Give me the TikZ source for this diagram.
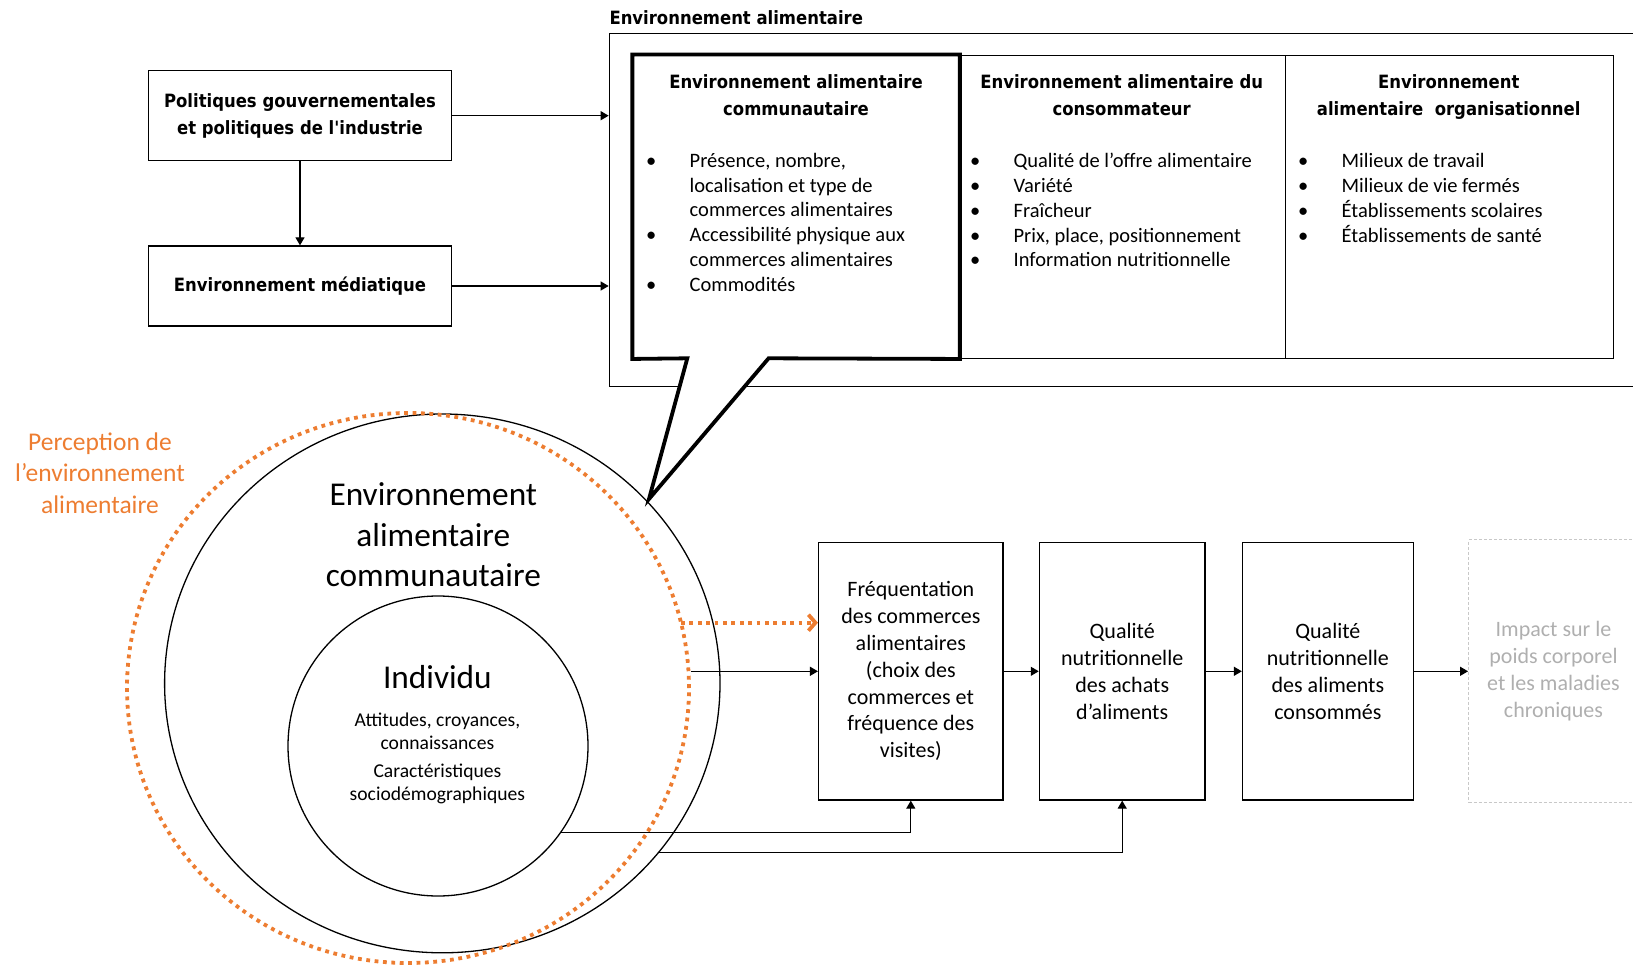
\documentclass[tikz,border=0pt]{standalone}
\usepackage{fontspec}
\setmainfont{Carlito}
\newfontfamily\headfont[FakeStretch=0.9]{DejaVu Sans}
\usetikzlibrary{arrows.meta,positioning,shapes.geometric}
\definecolor{percorange}{HTML}{ED7D31}
\definecolor{fadedline}{HTML}{C8C8C8}
\definecolor{fadedtext}{HTML}{AFAFAF}
\newcommand{\bl}{\makebox[0pt]{\textbullet}\hspace{38.5pt}}
\newcommand{\ct}{\hspace{38.5pt}}

\begin{document}
\begin{tikzpicture}[x=1pt, y=-1pt,
    box/.style = {draw, line width=1.3pt, inner sep=0pt, align=center},
    head/.style = {font=\headfont\bfseries\fontsize{18.3}{27.1}\selectfont, align=center, inner sep=0pt},
    body/.style = {font=\fontsize{20.5}{24.8}\selectfont, inner sep=0pt},
    flow/.style = {font=\fontsize{22}{26.8}\selectfont},
    arr/.style = {-{Triangle[length=8pt,width=9pt]}, line width=1.3pt},
    dots/.style = {draw=percorange, line width=3.8pt, dash pattern=on 3.8pt off 4.6pt}]
    \useasboundingbox (0,0) rectangle (1633,965);

    % policies and media
    \node[box, head, minimum width=303.4pt, minimum height=90pt] (pol) at (300,115.7) {Politiques gouvernementales\\et politiques de l'industrie};
    \node[box, head, minimum width=303.4pt, minimum height=80pt] (med) at (300,286) {Environnement médiatique};

    % food environment frame
    \node[head, anchor=west] (titre) at (609.3,17.7) {Environnement alimentaire};
    \node[box, minimum width=1040.7pt, minimum height=353.1pt] (env) at (1129.65,209.85) {};
    \node[box, minimum width=326.2pt, minimum height=303.1pt] (col1) at (796.1,206.75) {};
    \node[box, minimum width=326pt, minimum height=303.1pt] (col2) at (1122.2,206.75) {};
    \node[box, minimum width=328.1pt, minimum height=303.1pt] (col3) at (1449.25,206.75) {};
    \coordinate (tip) at (649,499);
    \draw[line width=3.8pt, fill=white] (col1.north west) -- (col1.north east) -- (col1.south east)
        -- (768.6,358.3) -- (tip) -- (687.3,358.3) -- (col1.south west) -- cycle;

    \node[head] (h1) at (796,94.75) {Environnement alimentaire\\communautaire};
    \node[head] (h2) at (1121.7,94.75) {Environnement alimentaire du\\consommateur};
    \node[head] (h3) at (1448.7,96.8) {Environnement\\alimentaire\ \ organisationnel};

    \node[body, anchor=west] (l1) at (651,224.4) {\begin{tabular}{@{}l@{}}
        \bl Présence, nombre,\\ \ct localisation et type de\\ \ct commerces alimentaires\\
        \bl Accessibilité physique aux\\ \ct commerces alimentaires\\ \bl Commodités\end{tabular}};
    \node[body, anchor=west] (l2) at (974.9,212.4) {\begin{tabular}{@{}l@{}}
        \bl Qualité de l’offre alimentaire\\ \bl Variété\\ \bl Fraîcheur\\
        \bl Prix, place, positionnement\\ \bl Information nutritionnelle\end{tabular}};
    \node[body, anchor=west] (l3) at (1303,199.9) {\begin{tabular}{@{}l@{}}
        \bl Milieux de travail\\ \bl Milieux de vie fermés\\
        \bl Établissements scolaires\\ \bl Établissements de santé\end{tabular}};

    % circles
    \node[draw, ellipse, line width=1.3pt, minimum width=555.4pt, minimum height=538.8pt, inner sep=0pt] (commu) at (442.3,683.4) {};
    \node[draw, circle, line width=1.3pt, minimum size=300pt, inner sep=0pt] (indiv) at (438,746) {};
    \node[dots, ellipse, minimum width=562pt, minimum height=550pt, inner sep=0pt] (percep) at (408,688) {};

    \node[font=\fontsize{33.3}{40.6}\selectfont, align=center, inner sep=0pt] (commutxt) at (433.3,535) {Environnement\\alimentaire\\communautaire};
    \node[font=\fontsize{33.3}{40.6}\selectfont, inner sep=0pt] (indivtxt) at (437.4,677) {Individu};
    \node[font=\fontsize{19.6}{22.8}\selectfont, align=center, inner sep=0pt] (atti) at (437.4,731) {Attitudes, croyances,\\connaissances};
    \node[font=\fontsize{19.6}{22.8}\selectfont, align=center, inner sep=0pt] (carac) at (437.4,784) {Caractéristiques\\sociodémographiques};
    \node[text=percorange, font=\fontsize{25.5}{31.7}\selectfont, align=center, inner sep=0pt] (perclab) at (100,473) {Perception de\\l’environnement\\alimentaire};

    % outcomes
    \node[box, flow, minimum width=184.4pt, minimum height=257.4pt] (freq) at (910.8,671.3) {Fréquentation\\des commerces\\alimentaires\\(choix des\\commerces et\\fréquence des\\visites)};
    \node[box, flow, minimum width=165.6pt, minimum height=257.4pt] (buy) at (1122.2,671.3) {Qualité\\nutritionnelle\\des achats\\d’aliments};
    \node[box, flow, minimum width=170.8pt, minimum height=257.4pt] (eat) at (1327.9,671.3) {Qualité\\nutritionnelle\\des aliments\\consommés};
    \node[box, flow, draw=fadedline, line width=0.9pt, dash pattern=on 3pt off 2pt, text=fadedtext, minimum width=170pt, minimum height=263pt] (impact) at (1553.5,671.3) {Impact sur le\\poids corporel\\et les maladies\\chroniques};

    % connectors
    \draw[arr] (pol.south) -- (med.north);
    \draw[arr] (pol.east) -- (pol.east -| env.west);
    \draw[arr] (med.east) -- (med.east -| env.west);
    \coordinate (pe) at (681,622.7);
    \draw[dots, -{Straight Barb[length=7pt,width=16pt]}] (pe) -- (pe -| freq.west);
    \draw[arr] (percep.east |- freq.west) -- (freq.west);
    \draw[arr] (freq) edge (buy);
    \draw[arr] (buy) edge (eat);
    \draw[arr] (eat.east) -- (eat.east -| impact.west);
    \draw[arr] (indiv.-35.6) -| (freq.south);
    \draw[arr] (commu.-38.6) -| (buy.south);
\end{tikzpicture}
\end{document}
